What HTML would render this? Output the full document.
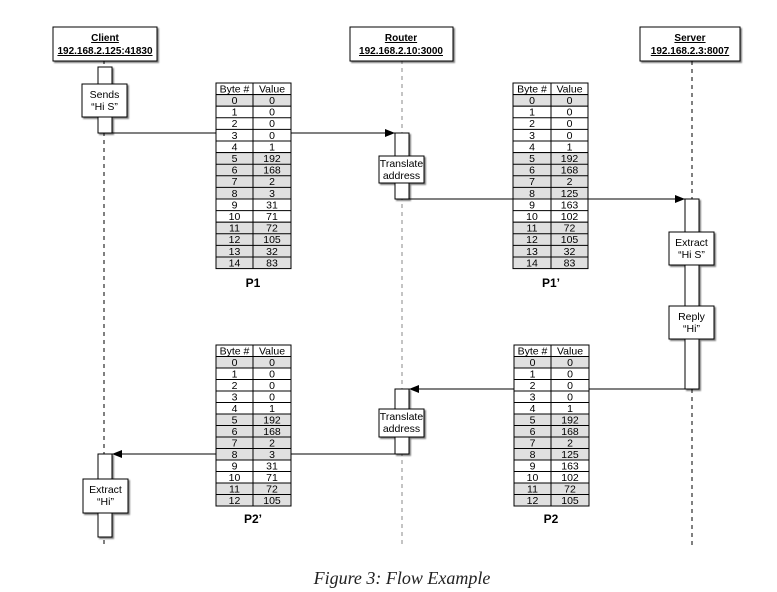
<!DOCTYPE html>
<html><head><meta charset="utf-8"><style>
html,body{margin:0;padding:0;background:#fff;}
svg{display:block;}
text{font-family:"Liberation Sans",sans-serif;}
.t{font-size:10.5px;text-anchor:middle;fill:#000;}
.h{font-size:10px;font-weight:bold;text-anchor:middle;text-decoration:underline;}
.g{fill:#e0e0e0;stroke:#000;stroke-width:1;}
.w{fill:#fff;stroke:#000;stroke-width:1;}
</style></head><body>
<svg width="777" height="592" viewBox="0 0 777 592" xmlns="http://www.w3.org/2000/svg">
<defs>
<marker id="ar" markerWidth="10" markerHeight="8" refX="10" refY="4" orient="auto" markerUnits="userSpaceOnUse"><path d="M0,0 L10,4 L0,8 z" fill="#000"/></marker>
<filter id="sh" x="-10%" y="-10%" width="130%" height="130%"><feOffset dx="1.5" dy="1.5" in="SourceAlpha"/><feGaussianBlur stdDeviation="0.8"/><feComponentTransfer><feFuncA type="linear" slope="0.5"/></feComponentTransfer><feMerge><feMergeNode/><feMergeNode in="SourceGraphic"/></feMerge></filter>
</defs>
<!-- lifelines -->
<line x1="104" y1="60" x2="104" y2="545" stroke="#000" stroke-dasharray="4,4"/>
<line x1="402" y1="60" x2="402" y2="545" stroke="#888" stroke-dasharray="4,4"/>
<line x1="692" y1="61" x2="692" y2="545" stroke="#000" stroke-dasharray="4,4"/>
<!-- headers -->
<g filter="url(#sh)">
<rect x="53" y="27" width="104" height="34" class="w"/>
<rect x="350" y="27" width="103" height="34" class="w"/>
<rect x="640" y="27" width="100" height="34" class="w"/>
</g>
<text x="105" y="41" class="h">Client</text><text x="105" y="54" class="h">192.168.2.125:41830</text>
<text x="401" y="41" class="h">Router</text><text x="401" y="54" class="h">192.168.2.10:3000</text>
<text x="690" y="41" class="h">Server</text><text x="690" y="54" class="h">192.168.2.3:8007</text>
<!-- arrows -->
<line x1="112" y1="133" x2="395" y2="133" stroke="#000" marker-end="url(#ar)"/>
<line x1="409" y1="199" x2="685" y2="199" stroke="#000" marker-end="url(#ar)"/>
<line x1="685" y1="389" x2="409" y2="389" stroke="#000" marker-end="url(#ar)"/>
<line x1="395" y1="454" x2="112" y2="454" stroke="#000" marker-end="url(#ar)"/>
<!-- activation bars -->
<g filter="url(#sh)">
<rect x="98" y="67" width="14" height="66" class="w"/>
<rect x="395" y="133" width="14" height="66" class="w"/>
<rect x="685" y="199" width="14" height="190" class="w"/>
<rect x="395" y="389" width="14" height="65" class="w"/>
<rect x="98" y="454" width="14" height="83" class="w"/>
<rect x="82" y="84" width="45" height="33" class="w"/>
<rect x="379" y="156" width="45" height="27" class="w"/>
<rect x="669" y="232" width="45" height="33" class="w"/>
<rect x="669" y="306" width="45" height="33" class="w"/>
<rect x="379" y="409" width="45" height="28" class="w"/>
<rect x="83" y="479" width="45" height="34" class="w"/>
</g>
<text x="104.5" y="98" class="t">Sends</text><text x="104.5" y="110" class="t">“Hi S”</text>
<text x="401.5" y="167" class="t">Translate</text><text x="401.5" y="179" class="t">address</text>
<text x="691.5" y="246" class="t">Extract</text><text x="691.5" y="258" class="t">“Hi S”</text>
<text x="691.5" y="320" class="t">Reply</text><text x="691.5" y="332" class="t">“Hi”</text>
<text x="401.5" y="420" class="t">Translate</text><text x="401.5" y="432" class="t">address</text>
<text x="105.5" y="493" class="t">Extract</text><text x="105.5" y="505" class="t">“Hi”</text>

<!-- P1 -->
<g transform="translate(216,83)">
<rect x="0" y="0" width="75" height="11.6" class="w"/>
<rect x="0" y="11.6" width="75" height="11.6" class="g"/>
<rect x="0" y="23.2" width="75" height="46.4" class="w"/>
<rect x="0" y="69.6" width="75" height="46.4" class="g"/>
<rect x="0" y="116" width="75" height="23.2" class="w"/>
<rect x="0" y="139.2" width="75" height="46.4" class="g"/>
<g stroke="#000"><line x1="37" y1="0" x2="37" y2="185.6"/><line x1="0" y1="34.8" x2="75" y2="34.8"/><line x1="0" y1="46.4" x2="75" y2="46.4"/><line x1="0" y1="58" x2="75" y2="58"/><line x1="0" y1="81.2" x2="75" y2="81.2"/><line x1="0" y1="92.8" x2="75" y2="92.8"/><line x1="0" y1="104.4" x2="75" y2="104.4"/><line x1="0" y1="127.6" x2="75" y2="127.6"/><line x1="0" y1="150.8" x2="75" y2="150.8"/><line x1="0" y1="162.4" x2="75" y2="162.4"/><line x1="0" y1="174" x2="75" y2="174"/></g>
<g class="t"><text x="18.5" y="9.5" class="t">Byte #</text><text x="56" y="9.5" class="t">Value</text>
<text x="18.5" y="21" class="t">0</text><text x="18.5" y="32.6" class="t">1</text><text x="18.5" y="44.2" class="t">2</text><text x="18.5" y="55.8" class="t">3</text><text x="18.5" y="67.4" class="t">4</text><text x="18.5" y="79" class="t">5</text><text x="18.5" y="90.6" class="t">6</text><text x="18.5" y="102.2" class="t">7</text><text x="18.5" y="113.8" class="t">8</text><text x="18.5" y="125.4" class="t">9</text><text x="18.5" y="137" class="t">10</text><text x="18.5" y="148.6" class="t">11</text><text x="18.5" y="160.2" class="t">12</text><text x="18.5" y="171.8" class="t">13</text><text x="18.5" y="183.4" class="t">14</text>
<text x="56" y="21" class="t">0</text><text x="56" y="32.6" class="t">0</text><text x="56" y="44.2" class="t">0</text><text x="56" y="55.8" class="t">0</text><text x="56" y="67.4" class="t">1</text><text x="56" y="79" class="t">192</text><text x="56" y="90.6" class="t">168</text><text x="56" y="102.2" class="t">2</text><text x="56" y="113.8" class="t">3</text><text x="56" y="125.4" class="t">31</text><text x="56" y="137" class="t">71</text><text x="56" y="148.6" class="t">72</text><text x="56" y="160.2" class="t">105</text><text x="56" y="171.8" class="t">32</text><text x="56" y="183.4" class="t">83</text></g>
</g>
<text x="253" y="287" style="font-size:12px;font-weight:bold;text-anchor:middle">P1</text>

<!-- P1' -->
<g transform="translate(513,83)">
<rect x="0" y="0" width="75" height="11.6" class="w"/>
<rect x="0" y="11.6" width="75" height="11.6" class="g"/>
<rect x="0" y="23.2" width="75" height="46.4" class="w"/>
<rect x="0" y="69.6" width="75" height="46.4" class="g"/>
<rect x="0" y="116" width="75" height="23.2" class="w"/>
<rect x="0" y="139.2" width="75" height="46.4" class="g"/>
<g stroke="#000"><line x1="38" y1="0" x2="38" y2="185.6"/><line x1="0" y1="34.8" x2="75" y2="34.8"/><line x1="0" y1="46.4" x2="75" y2="46.4"/><line x1="0" y1="58" x2="75" y2="58"/><line x1="0" y1="81.2" x2="75" y2="81.2"/><line x1="0" y1="92.8" x2="75" y2="92.8"/><line x1="0" y1="104.4" x2="75" y2="104.4"/><line x1="0" y1="127.6" x2="75" y2="127.6"/><line x1="0" y1="150.8" x2="75" y2="150.8"/><line x1="0" y1="162.4" x2="75" y2="162.4"/><line x1="0" y1="174" x2="75" y2="174"/></g>
<g><text x="19" y="9.5" class="t">Byte #</text><text x="56.5" y="9.5" class="t">Value</text>
<text x="19" y="21" class="t">0</text><text x="19" y="32.6" class="t">1</text><text x="19" y="44.2" class="t">2</text><text x="19" y="55.8" class="t">3</text><text x="19" y="67.4" class="t">4</text><text x="19" y="79" class="t">5</text><text x="19" y="90.6" class="t">6</text><text x="19" y="102.2" class="t">7</text><text x="19" y="113.8" class="t">8</text><text x="19" y="125.4" class="t">9</text><text x="19" y="137" class="t">10</text><text x="19" y="148.6" class="t">11</text><text x="19" y="160.2" class="t">12</text><text x="19" y="171.8" class="t">13</text><text x="19" y="183.4" class="t">14</text>
<text x="56.5" y="21" class="t">0</text><text x="56.5" y="32.6" class="t">0</text><text x="56.5" y="44.2" class="t">0</text><text x="56.5" y="55.8" class="t">0</text><text x="56.5" y="67.4" class="t">1</text><text x="56.5" y="79" class="t">192</text><text x="56.5" y="90.6" class="t">168</text><text x="56.5" y="102.2" class="t">2</text><text x="56.5" y="113.8" class="t">125</text><text x="56.5" y="125.4" class="t">163</text><text x="56.5" y="137" class="t">102</text><text x="56.5" y="148.6" class="t">72</text><text x="56.5" y="160.2" class="t">105</text><text x="56.5" y="171.8" class="t">32</text><text x="56.5" y="183.4" class="t">83</text></g>
</g>
<text x="551" y="287" style="font-size:12px;font-weight:bold;text-anchor:middle">P1’</text>

<!-- P2' -->
<g transform="translate(216,345)">
<rect x="0" y="0" width="75" height="11.5" class="w"/>
<rect x="0" y="11.5" width="75" height="11.5" class="g"/>
<rect x="0" y="23" width="75" height="46" class="w"/>
<rect x="0" y="69" width="75" height="46" class="g"/>
<rect x="0" y="115" width="75" height="23" class="w"/>
<rect x="0" y="138" width="75" height="23" class="g"/>
<g stroke="#000"><line x1="37" y1="0" x2="37" y2="161"/><line x1="0" y1="34.5" x2="75" y2="34.5"/><line x1="0" y1="46" x2="75" y2="46"/><line x1="0" y1="57.5" x2="75" y2="57.5"/><line x1="0" y1="80.5" x2="75" y2="80.5"/><line x1="0" y1="92" x2="75" y2="92"/><line x1="0" y1="103.5" x2="75" y2="103.5"/><line x1="0" y1="126.5" x2="75" y2="126.5"/><line x1="0" y1="149.5" x2="75" y2="149.5"/></g>
<g><text x="18.5" y="9.5" class="t">Byte #</text><text x="56" y="9.5" class="t">Value</text>
<text x="18.5" y="21" class="t">0</text><text x="18.5" y="32.5" class="t">1</text><text x="18.5" y="44" class="t">2</text><text x="18.5" y="55.5" class="t">3</text><text x="18.5" y="67" class="t">4</text><text x="18.5" y="78.5" class="t">5</text><text x="18.5" y="90" class="t">6</text><text x="18.5" y="101.5" class="t">7</text><text x="18.5" y="113" class="t">8</text><text x="18.5" y="124.5" class="t">9</text><text x="18.5" y="136" class="t">10</text><text x="18.5" y="147.5" class="t">11</text><text x="18.5" y="159" class="t">12</text>
<text x="56" y="21" class="t">0</text><text x="56" y="32.5" class="t">0</text><text x="56" y="44" class="t">0</text><text x="56" y="55.5" class="t">0</text><text x="56" y="67" class="t">1</text><text x="56" y="78.5" class="t">192</text><text x="56" y="90" class="t">168</text><text x="56" y="101.5" class="t">2</text><text x="56" y="113" class="t">3</text><text x="56" y="124.5" class="t">31</text><text x="56" y="136" class="t">71</text><text x="56" y="147.5" class="t">72</text><text x="56" y="159" class="t">105</text></g>
</g>
<text x="253" y="523" style="font-size:12px;font-weight:bold;text-anchor:middle">P2’</text>

<!-- P2 -->
<g transform="translate(514,345)">
<rect x="0" y="0" width="75" height="11.5" class="w"/>
<rect x="0" y="11.5" width="75" height="11.5" class="g"/>
<rect x="0" y="23" width="75" height="46" class="w"/>
<rect x="0" y="69" width="75" height="46" class="g"/>
<rect x="0" y="115" width="75" height="23" class="w"/>
<rect x="0" y="138" width="75" height="23" class="g"/>
<g stroke="#000"><line x1="37" y1="0" x2="37" y2="161"/><line x1="0" y1="34.5" x2="75" y2="34.5"/><line x1="0" y1="46" x2="75" y2="46"/><line x1="0" y1="57.5" x2="75" y2="57.5"/><line x1="0" y1="80.5" x2="75" y2="80.5"/><line x1="0" y1="92" x2="75" y2="92"/><line x1="0" y1="103.5" x2="75" y2="103.5"/><line x1="0" y1="126.5" x2="75" y2="126.5"/><line x1="0" y1="149.5" x2="75" y2="149.5"/></g>
<g><text x="18.5" y="9.5" class="t">Byte #</text><text x="56" y="9.5" class="t">Value</text>
<text x="18.5" y="21" class="t">0</text><text x="18.5" y="32.5" class="t">1</text><text x="18.5" y="44" class="t">2</text><text x="18.5" y="55.5" class="t">3</text><text x="18.5" y="67" class="t">4</text><text x="18.5" y="78.5" class="t">5</text><text x="18.5" y="90" class="t">6</text><text x="18.5" y="101.5" class="t">7</text><text x="18.5" y="113" class="t">8</text><text x="18.5" y="124.5" class="t">9</text><text x="18.5" y="136" class="t">10</text><text x="18.5" y="147.5" class="t">11</text><text x="18.5" y="159" class="t">12</text>
<text x="56" y="21" class="t">0</text><text x="56" y="32.5" class="t">0</text><text x="56" y="44" class="t">0</text><text x="56" y="55.5" class="t">0</text><text x="56" y="67" class="t">1</text><text x="56" y="78.5" class="t">192</text><text x="56" y="90" class="t">168</text><text x="56" y="101.5" class="t">2</text><text x="56" y="113" class="t">125</text><text x="56" y="124.5" class="t">163</text><text x="56" y="136" class="t">102</text><text x="56" y="147.5" class="t">72</text><text x="56" y="159" class="t">105</text></g>
</g>
<text x="551" y="523" style="font-size:12px;font-weight:bold;text-anchor:middle">P2</text>

<text x="402" y="584" style="font-family:'Liberation Serif',serif;font-style:italic;font-size:18px;text-anchor:middle;fill:#222">Figure 3: Flow Example</text>
</svg>
</body></html>
